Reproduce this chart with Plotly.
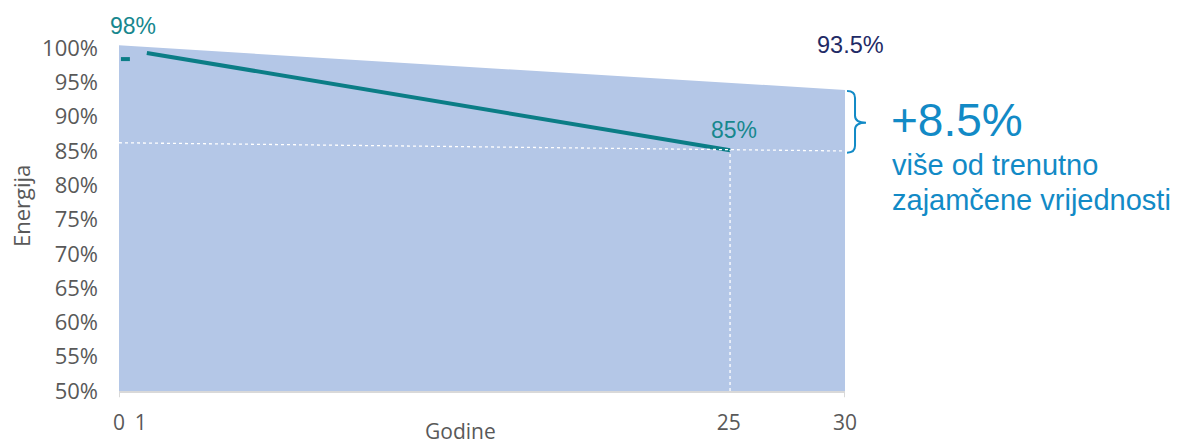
import plotly.graph_objects as go

# ---- data ----
fill_years = [0, 30]
fill_values = [100.4, 93.9]          # improved guarantee area (top edge)
first_year_x = [0.08, 0.45]
first_year_y = [98.4, 98.4]          # first-year guarantee dash
line_years = [1.15, 25.25]
line_values = [99.3, 85.1]           # current linear guarantee
ref_left_right = [86.2, 85.0]        # dotted 85% reference line
y_ticks = [50, 55, 60, 65, 70, 75, 80, 85, 90, 95, 100]
y_tick_text = [f"{v}%" for v in y_ticks]
x_tick_vals = [0, 0.9, 25.2, 30]
x_tick_text = ["0", "1", "25", "30"]

TEAL = "#0b7d86"
FILL = "#b4c7e7"
BLUE = "#128ac6"
GREY = "#595959"

fig = go.Figure()
fig.add_trace(go.Scatter(x=fill_years, y=fill_values, mode="lines", fill="tozeroy",
                         fillcolor=FILL, line=dict(width=0, color=FILL), hoverinfo="skip"))
fig.add_trace(go.Scatter(x=first_year_x, y=first_year_y, mode="lines",
                         line=dict(color=TEAL, width=4)))
fig.add_trace(go.Scatter(x=line_years, y=line_values, mode="lines",
                         line=dict(color=TEAL, width=4)))

# dotted reference lines
fig.add_shape(type="line", x0=0, x1=30, y0=ref_left_right[0], y1=ref_left_right[1],
              xref="x", yref="y", line=dict(color="white", width=1.3, dash="dot"))
fig.add_shape(type="line", x0=line_years[1], x1=line_years[1], y0=50, y1=line_values[1],
              xref="x", yref="y", line=dict(color="white", width=1.3, dash="dot"))

# tick marks at 0 and 30
for xv in [0, 30]:
    fig.add_shape(type="line", x0=xv, x1=xv, y0=0, y1=-0.018, xref="x", yref="paper",
                  line=dict(color="#d9d9d9", width=2))

# curly brace
px0, px1, px2 = 1.0028, 1.0138, 1.0289
yt, ym, yb = 93.74, 89.12, 84.75
path = (f"M {px0},{yt} Q {px1},{yt} {px1},{yt-1.0} L {px1},{ym+1.0} "
        f"Q {px1},{ym} {px2},{ym} Q {px1},{ym} {px1},{ym-1.0} L {px1},{yb+1.0} "
        f"Q {px1},{yb} {px0},{yb}")
fig.add_shape(type="path", path=path, xref="paper", yref="y",
              line=dict(color=BLUE, width=2))

ann_font = "Liberation Sans, Arial, sans-serif"
fig.add_annotation(x=0.58, y=1.095, xref="x", yref="paper", text="98%", showarrow=False,
                   font=dict(family=ann_font, size=23, color="#17878e"))
fig.add_annotation(x=25.4, y=88.1, xref="x", yref="y", text="85%", showarrow=False,
                   font=dict(family=ann_font, size=23, color="#17878e"))
fig.add_annotation(x=1.0069, y=100.45, xref="paper", yref="y", text="93.5%", showarrow=False,
                   xanchor="center", font=dict(family=ann_font, size=23.5, color="#1f2b66"))
fig.add_annotation(x=1.061, y=89.5, xref="paper", yref="y", text="+8.5%", showarrow=False,
                   xanchor="left", font=dict(family=ann_font, size=46, color=BLUE))
fig.add_annotation(x=1.062, y=82.95, xref="paper", yref="y", text="više od trenutno",
                   showarrow=False, xanchor="left",
                   font=dict(family=ann_font, size=29, color=BLUE))
fig.add_annotation(x=1.062, y=77.85, xref="paper", yref="y", text="zajamčene vrijednosti",
                   showarrow=False, xanchor="left",
                   font=dict(family=ann_font, size=29, color=BLUE))

# axis titles
fig.add_annotation(x=-0.135, y=0.533, xref="paper", yref="paper", text="Energija",
                   textangle=-90, showarrow=False, xanchor="center", yanchor="middle",
                   font=dict(family="Open Sans, sans-serif", size=22, color=GREY))
fig.add_annotation(x=0.4697, y=-0.114, xref="paper", yref="paper", text="Godine",
                   showarrow=False, xanchor="center", yanchor="middle",
                   font=dict(family="Open Sans, sans-serif", size=21, color=GREY))

fig.update_layout(
    width=1177, height=444,
    margin=dict(l=119, r=332, t=44, b=53),
    plot_bgcolor="white", paper_bgcolor="white",
    showlegend=False,
    font=dict(family="Open Sans, sans-serif", color=GREY),
)
fig.update_xaxes(range=[0, 30], tickvals=x_tick_vals, ticktext=x_tick_text,
                 showgrid=False, zeroline=False, showline=True, linecolor="#d9d9d9",
                 linewidth=2, ticks="", ticklabelstandoff=12, automargin=False,
                 tickfont=dict(size=21, color=GREY))
fig.update_yaxes(range=[50, 100.6], tickvals=y_ticks, ticktext=y_tick_text,
                 showgrid=False, zeroline=False, showline=False, ticks="",
                 ticklabelstandoff=20, automargin=False, tickfont=dict(size=22, color=GREY))

fig.write_html("out.html", config={"displayModeBar": False},
               post_script="document.body.style.margin='0';document.body.style.padding='0';")
